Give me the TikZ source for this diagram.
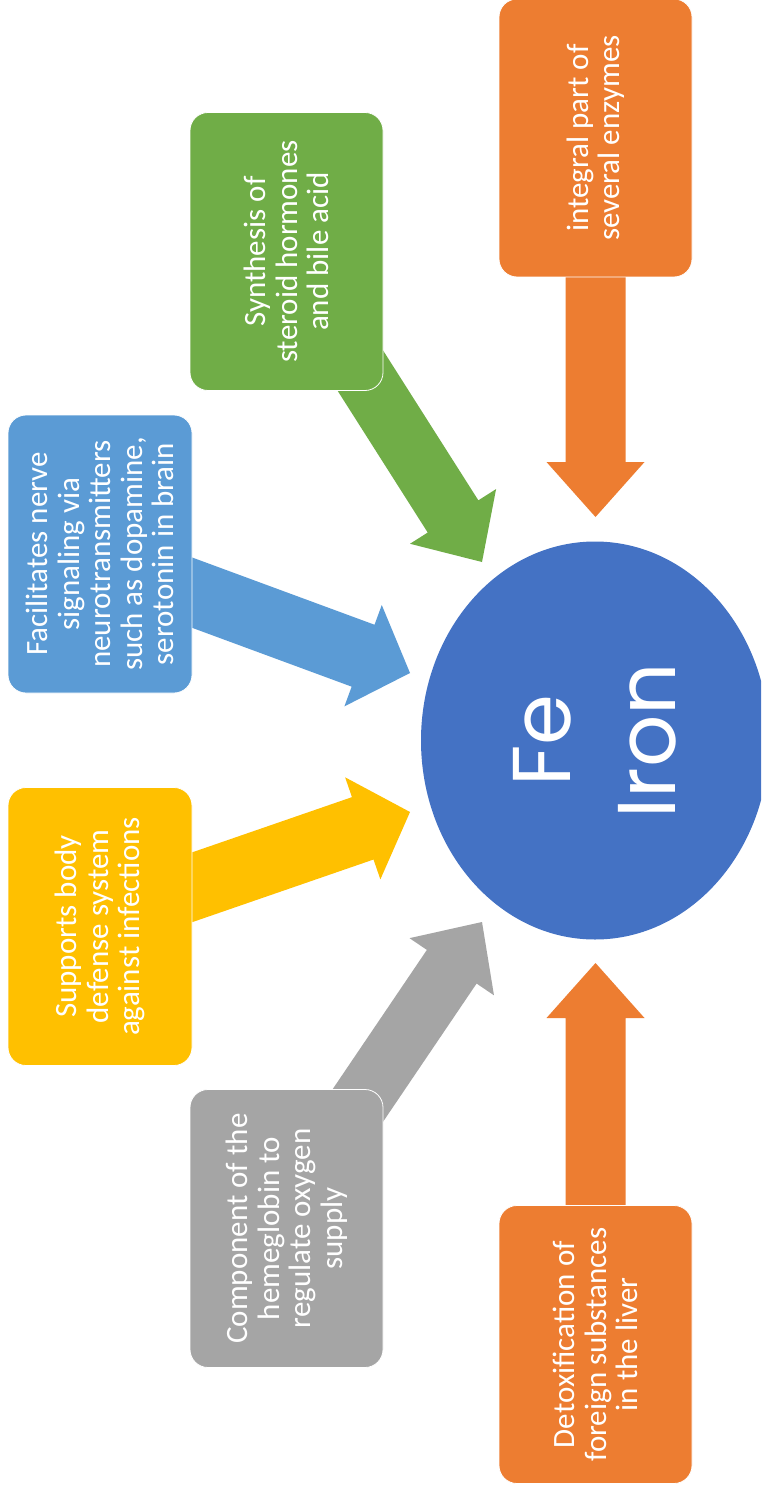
\documentclass[tikz,border=0pt]{standalone}
\usepackage{fontspec}
\setmainfont{Carlito}
\newfontfamily\ironfont{Poppins}
\usetikzlibrary{calc,shapes.geometric}

\definecolor{cOrange}{HTML}{ED7D31}
\definecolor{cGreen}{HTML}{70AD47}
\definecolor{cBlue}{HTML}{5B9BD5}
\definecolor{cYellow}{HTML}{FFC000}
\definecolor{cGray}{HTML}{A5A5A5}
\definecolor{cIron}{HTML}{4472C4}

% block arrow from #2 to #3: colour #1, shaft half width #4,
% head half width #5, head length #6
\newcommand\blockarrow[6]{%
  \fill[#1]
    ($(#2)!#4!90:(#3)$)
    -- ($(#3)!#6!(#2)!#4!90:(#3)$)
    -- ($(#3)!#6!(#2)!#5!90:(#3)$)
    -- (#3)
    -- ($(#3)!#6!(#2)!#5!-90:(#3)$)
    -- ($(#3)!#6!(#2)!#4!-90:(#3)$)
    -- ($(#2)!#4!-90:(#3)$)
    -- cycle;}

\tikzset{
  card/.style={rounded corners=18pt, draw=white, line width=0.8pt,
    text=white, align=center, rotate=90, inner sep=0pt,
    font=\fontsize{31}{31.5}\selectfont},
  wide/.style={minimum width=278pt, minimum height=193pt},
  narrow/.style={minimum width=278pt, minimum height=184pt},
  core/.style={ellipse, fill=cIron, draw=none, rotate=90, inner sep=0pt,
    minimum width=398pt, minimum height=348pt, text=white, align=center,
    font=\ironfont\fontsize{82}{105}\selectfont},
}

\begin{document}
\begin{tikzpicture}[x=1pt, y=-1pt]
  \useasboundingbox (0,0) rectangle (761,1495);
  \clip (0,0) rectangle (761,1495);
  \fill[white] (0,0) rectangle (761,1495);

  % arrow ends
  \coordinate (enzS) at (595.5,250);
  \coordinate (enzT) at (595.5,517);
  \coordinate (detS) at (595.5,1230);
  \coordinate (detT) at (595.5,963);
  \coordinate (synS) at (332,326);
  \coordinate (synT) at (482,562);
  \coordinate (hemS) at (325,1154);
  \coordinate (hemT) at (482,922);
  \coordinate (nerS) at (166,583);
  \coordinate (nerT) at (410,673);
  \coordinate (defS) at (164,897);
  \coordinate (defT) at (410,812);

  % arrows behind the boxes
  \blockarrow{cOrange}{enzS}{enzT}{30pt}{49pt}{55pt}
  \blockarrow{cOrange}{detS}{detT}{30pt}{49pt}{55pt}
  \blockarrow{cGreen}{synS}{synT}{30pt}{51pt}{54pt}
  \blockarrow{cGray}{hemS}{hemT}{30pt}{51pt}{54pt}
  \blockarrow{cBlue}{nerS}{nerT}{33pt}{54pt}{50pt}
  \blockarrow{cYellow}{defS}{defT}{33pt}{54pt}{50pt}

  % central element
  \node[core] (iron) at (595,740.5) {Fe\\Iron};

  % function boxes
  \node[card, wide, fill=cOrange] (enz) at (595.5,138)
    {integral part of\\several enzymes};
  \node[card, wide, fill=cGreen] (syn) at (286.5,251.5)
    {Synthesis of\\steroid hormones\\and bile acid};
  \node[card, narrow, fill=cBlue] (ner) at (100,554)
    {Facilitates nerve\\signaling via\\neurotransmitters\\such as dopamine,\\serotonin in brain};
  \node[card, narrow, fill=cYellow] (def) at (100,926.5)
    {Supports body\\defense system\\against infections};
  \node[card, wide, fill=cGray] (hem) at (286.5,1228.5)
    {Component of the\\hemeglobin to\\regulate oxygen\\supply};
  \node[card, wide, fill=cOrange] (det) at (595.5,1344.5)
    {Detoxification of\\foreign substances\\in the liver};
\end{tikzpicture}
\end{document}
